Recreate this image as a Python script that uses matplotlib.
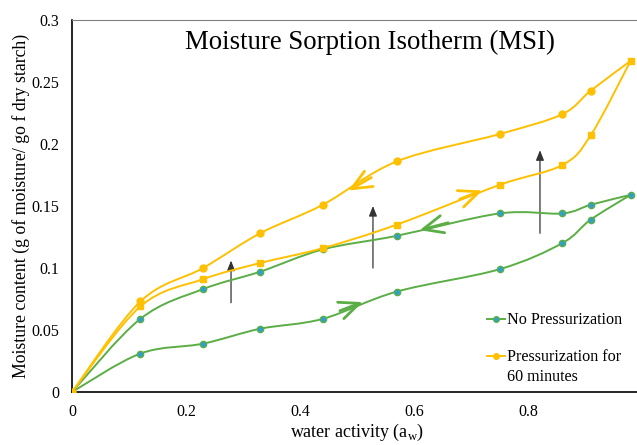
import numpy as np
import matplotlib
matplotlib.use("Agg")
import matplotlib.pyplot as plt
from matplotlib.path import Path
from matplotlib.patches import PathPatch
from matplotlib.lines import Line2D

plt.rcParams['font.family'] = ['Liberation Serif', 'DejaVu Serif']

# water activity points (adsorption goes up, desorption comes back down)
aw_up = [0, 0.12, 0.23, 0.33, 0.44, 0.57, 0.75, 0.86, 0.91, 0.98]
aw_down = aw_up[::-1]

# No pressurization
np_ads = [0, 0.031, 0.039, 0.051, 0.059, 0.081, 0.099, 0.120, 0.139, 0.159]
np_des = [0.159, 0.151, 0.144, 0.144, 0.126, 0.115, 0.097, 0.083, 0.059, 0]

# Pressurization for 60 minutes
p60_ads = [0, 0.069, 0.091, 0.104, 0.116, 0.135, 0.167, 0.183, 0.207, 0.267]
p60_des = [0.267, 0.243, 0.224, 0.208, 0.186, 0.151, 0.128, 0.100, 0.073, 0]

GREEN = '#5aae45'
GREEN_MK = '#2e9fd0'
GOLD = '#ffc000'


def smooth_path(x, y):
    """Excel-like smooth line: bezier through the points (catmull-rom controls)."""
    pts = np.column_stack([x, y]).astype(float)
    verts = [pts[0]]
    codes = [Path.MOVETO]
    n = len(pts)
    for i in range(n - 1):
        p0 = pts[i - 1] if i > 0 else pts[i]
        p3 = pts[i + 2] if i + 2 < n else pts[i + 1]
        c1 = pts[i] + (pts[i + 1] - p0) / 6
        c2 = pts[i + 1] - (p3 - pts[i]) / 6
        verts += [c1, c2, pts[i + 1]]
        codes += [Path.CURVE4] * 3
    return Path(verts, codes)


def draw_series(ax, x, y, color, marker, mfc, mec, ms):
    ax.add_patch(PathPatch(smooth_path(x, y), facecolor='none', edgecolor=color, lw=1.4, zorder=2))
    ax.plot(x[1:], y[1:], ls='none', marker=marker, mfc=mfc, mec=mec, ms=ms, zorder=3)


fig = plt.figure(figsize=(6.37, 4.45), dpi=100)
ax = fig.add_axes([72 / 637, 53 / 445, 570 / 637, 372 / 445])

draw_series(ax, aw_up, np_ads, GREEN, 'o', GREEN_MK, GREEN, 4.5)
draw_series(ax, aw_down, np_des, GREEN, 'o', GREEN_MK, GREEN, 4.5)
draw_series(ax, aw_up, p60_ads, GOLD, 's', GOLD, GOLD, 5)
draw_series(ax, aw_down, p60_des, GOLD, 'o', GOLD, GOLD, 5)

# direction chevrons on the curves
chevrons = [((0.485, 0.1625), (0.525, 0.173), GOLD),
            ((0.72, 0.1625), (0.68, 0.1555), GOLD),
            ((0.61, 0.1305), (0.66, 0.1365), GREEN),
            ((0.51, 0.0725), (0.47, 0.0655), GREEN)]
for head, tail, c in chevrons:
    ax.annotate('', xy=head, xytext=tail,
                arrowprops=dict(arrowstyle='->,head_length=0.8,head_width=0.35',
                                color=c, lw=2, mutation_scale=18, shrinkA=0, shrinkB=0),
                zorder=4)

# black arrows: effect of pressurization
for xa, y0, y1 in [(0.279, 0.072, 0.106), (0.528, 0.100, 0.150), (0.821, 0.128, 0.195)]:
    ax.annotate('', xy=(xa, y1), xytext=(xa, y0),
                arrowprops=dict(arrowstyle='-|>,head_length=0.5,head_width=0.2',
                                color='#333333', lw=0.9, mutation_scale=12, shrinkA=0, shrinkB=0),
                zorder=1)

ax.set_xlim(0, 1)
ax.set_ylim(0, 0.3)
ax.set_xticks([0, 0.2, 0.4, 0.6, 0.8])
ax.set_xticklabels(['0', '0.2', '0.4', '0.6', '0.8'])
ax.set_yticks([0, 0.05, 0.1, 0.15, 0.2, 0.25, 0.3])
ax.set_yticklabels(['0', '0.05', '0.1', '0.15', '0.2', '0.25', '0.3'])
ax.tick_params(length=0, labelsize=11.5)
ax.tick_params(axis='y', pad=9)
ax.tick_params(axis='x', pad=9)
ax.spines['top'].set_color('#808080')
ax.spines['right'].set_visible(False)
ax.spines['left'].set_linewidth(1.2)
ax.spines['bottom'].set_linewidth(1.2)

ax.set_xlabel('water activity (a$_\\mathregular{w}$)', fontsize=13, labelpad=1)
ax.set_ylabel('Moisture content (g of moisture/ go f dry starch)', fontsize=12.8, labelpad=1.5)
ax.text(0.523, 0.94, 'Moisture Sorption Isotherm (MSI)', transform=ax.transAxes,
        ha='center', va='center', fontsize=19.3)

handles = [Line2D([], [], color=GREEN, marker='o', mfc=GREEN_MK, mec=GREEN, ms=4, lw=1.4),
           Line2D([], [], color=GOLD, marker='o', mfc=GOLD, mec=GOLD, ms=4, lw=1.4)]
leg = ax.legend(handles, ['No Pressurization', 'Pressurization for'],
                loc='upper left', bbox_to_anchor=(0.728, 0.214), frameon=False, fontsize=11.6,
                handlelength=1.1, handletextpad=0.15, labelspacing=1.3, borderpad=0,
                borderaxespad=0)
# second line of the second legend entry, under its first line
ax.annotate('60 minutes', xy=(0, 0.5), xycoords=leg.get_texts()[1],
            xytext=(0, -14.4), textcoords='offset points', ha='left', va='center',
            fontsize=11.6, zorder=6, annotation_clip=False)

fig.savefig('out.png', dpi=100)
